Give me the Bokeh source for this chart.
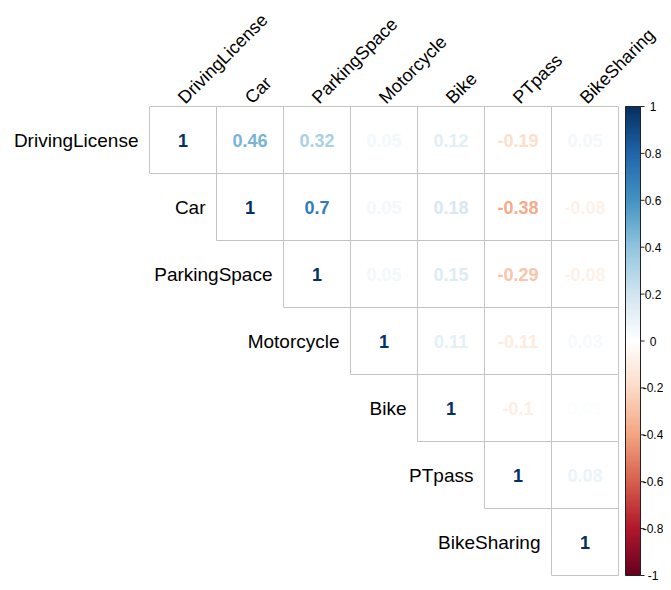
import numpy as np
from bokeh.plotting import figure
from bokeh.models import ColumnDataSource, LinearColorMapper, Range1d
from bokeh.transform import linear_cmap
from bokeh.core.properties import value
from bokeh.embed import file_html
from bokeh.resources import INLINE

# ---- data ----
variables = ["DrivingLicense", "Car", "ParkingSpace", "Motorcycle", "Bike", "PTpass", "BikeSharing"]
row_driving = [1, 0.46, 0.32, 0.05, 0.12, -0.19, 0.05]
row_car = [0.46, 1, 0.7, 0.05, 0.18, -0.38, -0.08]
row_parking = [0.32, 0.7, 1, 0.05, 0.15, -0.29, -0.08]
row_motorcycle = [0.05, 0.05, 0.05, 1, 0.11, -0.11, 0.03]
row_bike = [0.12, 0.18, 0.15, 0.11, 1, -0.1, 0.01]
row_ptpass = [-0.19, -0.38, -0.29, -0.11, -0.1, 1, 0.08]
row_bikesharing = [0.05, -0.08, -0.08, 0.03, 0.01, 0.08, 1]
corr = [row_driving, row_car, row_parking, row_motorcycle, row_bike, row_ptpass, row_bikesharing]
legend_ticks = [1, 0.8, 0.6, 0.4, 0.2, 0, -0.2, -0.4, -0.6, -0.8, -1]
legend_labels = ["1", "0.8", "0.6", "0.4", "0.2", "0", "-0.2", "-0.4", "-0.6", "-0.8", "-1"]

# ---- colour scale (corrplot RdBu) ----
anchors = ["#67001F", "#B2182B", "#D6604D", "#F4A582", "#FDDBC7", "#FFFFFF",
           "#D1E5F0", "#92C5DE", "#4393C3", "#2166AC", "#053061"]


def ramp(cols, n):
    rgb = np.array([[int(c[k:k + 2], 16) for k in (1, 3, 5)] for c in cols], dtype=float)
    pos = np.linspace(0, 1, len(cols))
    t = np.linspace(0, 1, n)
    out = []
    for tt in t:
        r = np.interp(tt, pos, rgb[:, 0])
        g = np.interp(tt, pos, rgb[:, 1])
        b = np.interp(tt, pos, rgb[:, 2])
        out.append("#%02x%02x%02x" % (int(round(r)), int(round(g)), int(round(b))))
    return out


palette = ramp(anchors, 200)
mapper = LinearColorMapper(palette=palette, low=-1, high=1)

# ---- layout constants (px) ----
W, H = 663, 582
CELL = 67.0
LEFT = 149.0
TOP = 106.0
n = len(variables)

p = figure(width=W, height=H, output_backend="svg", toolbar_location=None,
           x_range=Range1d(-LEFT / CELL, (W - LEFT) / CELL),
           y_range=Range1d(-(H - TOP - n * CELL) / CELL, n + TOP / CELL),
           min_border=0, outline_line_color=None)
p.xaxis.visible = False
p.yaxis.visible = False
p.grid.visible = False
p.background_fill_color = "white"

xs, ys, vals, labs = [], [], [], []
for i in range(n):
    for j in range(i, n):
        v = corr[i][j]
        xs.append(j + 0.5)
        ys.append(n - i - 0.5)
        vals.append(v)
        labs.append(f"{round(v, 2):g}")
src = ColumnDataSource(dict(x=xs, y=ys, v=vals, lab=labs))

p.rect(x="x", y="y", width=1, height=1, source=src, fill_color=None,
       line_color="#c4c4c4", line_width=1)
p.text(x="x", y="y", text="lab", source=src, text_align="center", text_baseline="middle",
       text_font=value("Liberation Sans"), text_font_style="bold", text_font_size="18px",
       text_color=linear_cmap("v", palette, -1, 1))

# row labels
rsrc = ColumnDataSource(dict(x=[i for i in range(n)], y=[n - i - 0.5 for i in range(n)], t=variables))
p.text(x="x", y="y", text="t", source=rsrc, x_offset=-11, text_align="right",
       text_baseline="middle", text_font=value("Liberation Sans"), text_font_size="19px",
       text_color="black")

# column labels
csrc = ColumnDataSource(dict(x=[j + 0.5 for j in range(n)], y=[n for _ in range(n)], t=variables))
p.text(x="x", y="y", text="t", source=csrc, x_offset=-2, y_offset=-6, angle=np.pi / 4,
       text_align="left", text_baseline="alphabetic", text_font=value("Liberation Sans"),
       text_font_size="18px", text_color="black")

# colour legend
cb_x0 = (625 - LEFT) / CELL
cb_w = 15 / CELL
grad = np.linspace(-1, 1, 400).reshape(400, 1)
p.image(image=[grad], x=cb_x0, y=0, dw=cb_w, dh=n, color_mapper=mapper)
p.quad(left=[cb_x0], right=[cb_x0 + cb_w], bottom=[0], top=[n], fill_color=None,
       line_color="#222222", line_width=1)
tick_y = [(t + 1) / 2 * n for t in legend_ticks]
p.segment(x0=[cb_x0 + cb_w] * len(tick_y), y0=tick_y, x1=[cb_x0 + cb_w + 4 / CELL] * len(tick_y),
          y1=tick_y, line_color="#222222", line_width=1)
p.text(x=[(652.5 - LEFT) / CELL] * len(tick_y), y=tick_y, text=legend_labels,
       text_align="center", text_baseline="middle", text_font=value("Liberation Sans"),
       text_font_size="12px", text_color="black")

open("out.html", "w").write(file_html(p, INLINE))
